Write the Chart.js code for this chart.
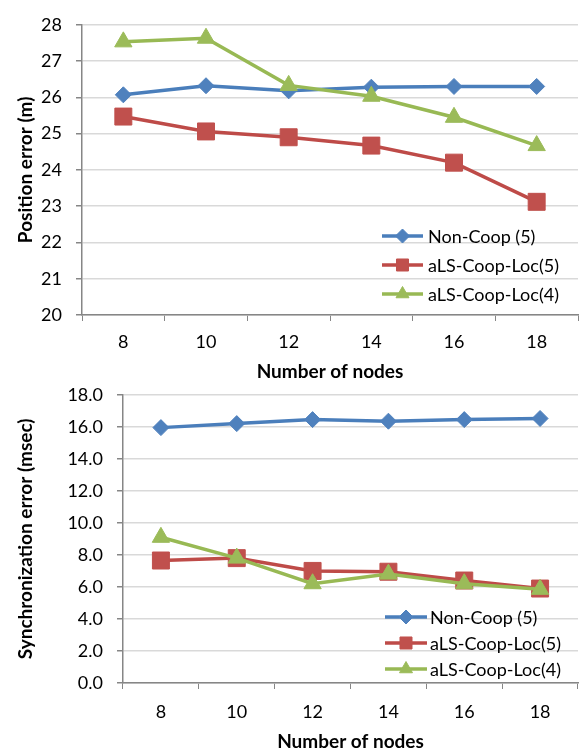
<!DOCTYPE html>
<html>
<head>
<meta charset="utf-8">
<script src="https://cdn.jsdelivr.net/npm/chart.js@4"></script>
<style>
  body { margin: 0; background: #fff; }
  #posChart { position: absolute; left: 0; top: 0; }
  #syncChart { position: absolute; left: 0; top: 370px; }
</style>
</head>
<body>
<canvas id="posChart" width="585" height="383"></canvas>
<canvas id="syncChart" width="585" height="383"></canvas>
<script>
// ------- Data -------
const nodes = ['8', '10', '12', '14', '16', '18'];
const seriesNames = ['Non-Coop (5)', 'aLS-Coop-Loc(5)', 'aLS-Coop-Loc(4)'];

// position error (m)
const posNonCoop = [26.07, 26.32, 26.18, 26.28, 26.30, 26.30];
const posCoop5 = [25.47, 25.06, 24.90, 24.67, 24.20, 23.12];
const posCoop4 = [27.53, 27.63, 26.33, 26.03, 25.45, 24.67];

// synchronization error (msec)
const syncNonCoop = [15.95, 16.20, 16.45, 16.35, 16.45, 16.52];
const syncCoop5 = [7.65, 7.80, 7.00, 6.95, 6.40, 5.90];
const syncCoop4 = [9.10, 7.80, 6.20, 6.80, 6.20, 5.85];

const posTicks = { min: 20, max: 28, step: 1 };
const syncTicks = { min: 0, max: 18, step: 2 };

// ------- Styles -------
const FONT = 'Lato';
Chart.defaults.font.family = FONT;
Chart.defaults.color = '#000';

const styles = [
    { line: '#4A7EBB', fill: '#4F81BD', point: 'rectRot', r: 8, lr: 7 },
    { line: '#BE4B48', fill: '#C0504D', point: 'rect', r: 12, lr: 8.5 },
    { line: '#98B954', fill: '#9BBB59', point: 'triangle', r: 10, lr: 7.5 }
];

function makeDatasets(values) {
    return values.map((v, i) => ({
        label: seriesNames[i],
        data: v,
        borderColor: styles[i].line,
        backgroundColor: styles[i].fill,
        borderWidth: 3.5,
        pointStyle: styles[i].point,
        pointRadius: styles[i].r,
        pointBorderWidth: 1,
        pointBorderColor: styles[i].fill,
        pointBackgroundColor: styles[i].fill,
        tension: 0,
        order: 3 - i   // green on top, blue below
    }));
}

// legend drawn inside the plot area
const inlineLegend = {
    id: 'inlineLegend',
    afterDatasetsDraw(chart, args, o) {
        const ctx = chart.ctx;
        ctx.save();
        chart.data.datasets.forEach((ds, i) => {
            const y = o.top + i * o.gap;
            ctx.strokeStyle = ds.borderColor;
            ctx.lineWidth = 3.5;
            ctx.beginPath();
            ctx.moveTo(o.left, y);
            ctx.lineTo(o.left + o.len, y);
            ctx.stroke();
            ctx.fillStyle = ds.pointBackgroundColor;
            ctx.strokeStyle = ds.pointBackgroundColor;
            ctx.lineWidth = 1;
            Chart.helpers.drawPoint(ctx, { pointStyle: ds.pointStyle, radius: styles[i].lr, borderWidth: 1, rotation: 0 },
                o.left + o.len / 2, y);
            ctx.fillStyle = '#000';
            ctx.font = '18px ' + FONT;
            ctx.textBaseline = 'middle';
            ctx.textAlign = 'left';
            ctx.fillText(ds.label, o.textX, y + 1);
        });
        ctx.restore();
    }
};

function makeChart(id, values, ticks, yTitle, yWidth, xHeight, pad, legend, fmt, tickPad) {
    return new Chart(document.getElementById(id), {
        type: 'line',
        data: { labels: nodes, datasets: makeDatasets(values) },
        plugins: [inlineLegend],
        options: {
            responsive: false,
            animation: false,
            layout: { padding: pad, autoPadding: false },
            plugins: {
                legend: { display: false },
                tooltip: { enabled: false },
                inlineLegend: legend
            },
            scales: {
                x: {
                    offset: true,
                    afterFit(s) { s.height = xHeight; },
                    grid: { offset: true, drawOnChartArea: false, tickLength: 6, tickColor: '#868686' },
                    border: { color: '#868686', width: 1.5 },
                    ticks: { padding: tickPad, font: { size: 18 } },
                    title: { display: true, text: 'Number of nodes', font: { size: 19, weight: 'bold' }, padding: { top: 0, bottom: 0 } }
                },
                y: {
                    min: ticks.min,
                    max: ticks.max,
                    afterFit(s) { s.width = yWidth; },
                    grid: { color: '#D9D9D9', lineWidth: 1.5, tickLength: 6, tickColor: '#868686' },
                    border: { color: '#868686', width: 1.5 },
                    ticks: { stepSize: ticks.step, padding: 14, font: { size: 18 }, callback: fmt },
                    title: { display: true, text: yTitle, font: { size: 19, weight: 'bold' }, padding: { top: 14, bottom: 0 } }
                }
            }
        }
    });
}

makeChart('posChart', [posNonCoop, posCoop5, posCoop4], posTicks, 'Position error (m)', 82, 68,
    { top: 18, right: 7, bottom: 0, left: 0 },
    { left: 382, len: 41, textX: 428, top: 236, gap: 29 },
    v => String(v), 10);

makeChart('syncChart', [syncNonCoop, syncCoop5, syncCoop4], syncTicks, 'Synchronization error (msec)', 123, 70,
    { top: 17, right: 7, bottom: 0, left: 0 },
    { left: 385, len: 42, textX: 430, top: 247, gap: 26 },
    v => v.toFixed(1), 12);
</script>
</body>
</html>
